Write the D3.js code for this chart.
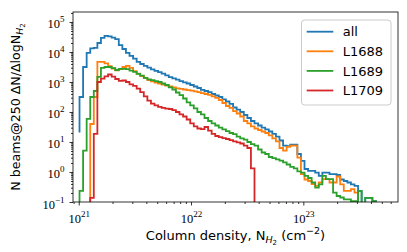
<!DOCTYPE html>
<html>
<head>
<meta charset="UTF-8">
<style>
body { margin: 0; background: #fff; }
svg { display: block; }
</style>
</head>
<body>
<svg></svg>
<script src="https://d3js.org/d3.v7.min.js"></script>
<script>

let width = 407, height = 252;
let plot = {left: 73, right: 398, top: 12, bottom: 202};

// histogram bins: log10 N_H2 of the first edge and the bin width (dex)
let binStart = 21.007, binStep = 0.0318;

// log10 of the counts, one per bin; null = empty bin
let logAll = [1.32, 2.50, 3.50, 3.97, 4.12, 4.14, 4.30, 4.47, 4.54, 4.52,
  4.48, 4.43, 4.23, 4.10, 3.97, 3.87, 3.78, 3.67, 3.60, 3.54,
  3.48, 3.42, 3.37, 3.33, 3.28, 3.22, 3.16, 3.12, 3.08, 3.03,
  2.99, 2.95, 2.90, 2.85, 2.80, 2.74, 2.70, 2.66, 2.60, 2.55,
  2.50, 2.42, 2.35, 2.27, 2.15, 2.08, 2.00, 1.90, 1.80, 1.70,
  1.62, 1.55, 1.48, 1.42, 1.35, 1.27, 1.18, 1.05, 0.88, 0.86,
  0.91, 0.91, 0.60, 0.37, 0.10, 0.04, 0.04, -0.02, -0.13, -0.02,
  -0.02, -0.07, -0.07, -0.10, -0.25, -0.30, -0.35, -0.41, -0.46, -0.63,
  null, -0.86, -0.86, -0.97, null];

let logL1688 = [null, null, null, null, 1.60, 2.50, 3.67, 3.67, 3.62, 3.53,
  3.45, 3.39, 3.43, 3.50, 3.54, 3.47, 3.36, 3.28, 3.20, 3.13,
  3.06, 3.02, 2.98, 2.95, 2.91, 2.88, 2.85, 2.82, 2.79, 2.77,
  2.75, 2.73, 2.71, 2.69, 2.66, 2.63, 2.60, 2.57, 2.52, 2.47,
  2.40, 2.30, 2.20, 2.14, 2.03, 1.95, 1.85, 1.70, 1.62, 1.52,
  1.45, 1.40, 1.35, 1.30, 1.22, 1.12, 1.02, 0.80, 0.71, 0.84,
  0.88, 0.88, 0.48, -0.07, -0.25, -0.30, -0.40, -0.46, -0.35, -0.24,
  -0.24, -0.35, -0.35, -0.15, -0.41, -0.63, -0.63, -0.57, -0.69, null];

let logL1689 = [null, -0.63, 0.71, 1.77, 2.50, 2.70, 3.17, 3.47, 3.50, 3.50,
  3.46, 3.40, 3.44, 3.44, 3.43, 3.38, 3.34, 3.27, 3.21, 3.14,
  3.09, 3.06, 3.03, 3.00, 2.95, 2.90, 2.82, 2.75, 2.65, 2.56,
  2.45, 2.32, 2.22, 2.12, 2.00, 1.92, 1.80, 1.70, 1.62, 1.55,
  1.48, 1.42, 1.36, 1.30, 1.26, 1.18, 1.12, 1.08, 1.00, 0.93,
  0.88, 0.75, 0.65, 0.60, 0.50, 0.46, 0.42, 0.38, 0.32, 0.25,
  0.17, 0.12, 0.02, -0.02, -0.13, -0.20, -0.35, -0.52, -0.41, -0.13,
  -0.24, -0.24, -0.69, -0.80, -0.85, -0.91, -0.91, -0.97, -0.97, -0.63,
  null, -0.86, -0.86, -0.97, null];

let logL1709 = [null, null, null, null, -0.86, 1.27, 3.00, 3.11, 3.19, 3.25,
  3.18, 3.10, 3.04, 3.05, 3.00, 2.92, 2.87, 2.78, 2.66, 2.52,
  2.38, 2.28, 2.22, 2.17, 2.14, 2.11, 2.10, 2.06, 2.00, 1.92,
  1.85, 1.75, 1.62, 1.52, 1.45, 1.43, 1.50, 1.38, 1.27, 1.20,
  1.16, 1.13, 1.10, 1.06, 1.02, 0.99, 0.95, 0.88, 0.80, 0.12,
  null];

let seriesNames = ["all", "L1688", "L1689", "L1709"];
let seriesColors = ["#1f77b4", "#ff7f0e", "#2ca02c", "#d62728"];
let xTickExp = [21, 22, 23];
let yTickExp = [-1, 0, 1, 2, 3, 4, 5];

let svg = d3.select("svg")
    .attr("width", width)
    .attr("height", height);

let x = d3.scaleLog()
    .domain([Math.pow(10, 20.949), Math.pow(10, 23.843)])
    .range([plot.left, plot.right]);
let y = d3.scaleLog()
    .domain([0.1, Math.pow(10, 5.333)])
    .range([plot.bottom, plot.top]);

svg.append("defs").append("clipPath")
    .attr("id", "plotclip")
    .append("rect")
    .attr("x", plot.left).attr("y", plot.top)
    .attr("width", plot.right - plot.left)
    .attr("height", plot.bottom - plot.top);

let line = d3.line()
    .x(d => x(d.n))
    .y(d => y(d.count))
    .curve(d3.curveStepBefore);

let allSeries = [logAll, logL1688, logL1689, logL1709];

svg.append("g")
    .attr("clip-path", "url(#plotclip)")
    .selectAll("path")
    .data(allSeries)
    .enter()
    .append("path")
    .attr("fill", "none")
    .attr("stroke", (d, i) => seriesColors[i])
    .attr("stroke-width", 1.8)
    .attr("stroke-linejoin", "miter")
    .attr("d", vals => line(vals.map((v, k) => ({
        n: Math.pow(10, binStart + binStep * k),
        count: v === null ? 1e-6 : Math.pow(10, v)
    }))));

// minor tick positions (2..9 x decade) inside the domain
function minorTicks(scale, e0, e1) {
    let out = [];
    let [lo, hi] = scale.domain();
    for (let e = e0; e <= e1; e++) {
        for (let m = 2; m <= 9; m++) {
            let v = m * Math.pow(10, e);
            if (v >= lo && v <= hi) out.push(v);
        }
    }
    return out;
}

let tickFont = "'Liberation Serif', 'DejaVu Serif', serif";
let labelFont = "'DejaVu Sans', sans-serif";

function powLabel(sel, exp, supSize, supDy) {
    sel.text(null);
    sel.append("tspan").text("10");
    sel.append("tspan")
        .attr("dy", supDy)
        .attr("font-size", supSize)
        .text(String(exp).replace("-", "\u2212"));
}

// x axis
let gxMinor = svg.append("g")
    .attr("transform", "translate(0," + plot.bottom + ")")
    .call(d3.axisBottom(x).tickValues(minorTicks(x, 20, 23)).tickSize(2).tickSizeOuter(0).tickFormat(""));
let gx = svg.append("g")
    .attr("transform", "translate(0," + plot.bottom + ")")
    .call(d3.axisBottom(x).tickValues(xTickExp.map(e => Math.pow(10, e))).tickSize(3.5).tickSizeOuter(0));
gx.selectAll("text")
    .attr("y", 21).attr("dy", 0)
    .attr("font-family", tickFont)
    .attr("font-size", 12.5)
    .each(function (d, i) { powLabel(d3.select(this), xTickExp[i], 9, -6); });

// y axis
let gyMinor = svg.append("g")
    .attr("transform", "translate(" + plot.left + ",0)")
    .call(d3.axisLeft(y).tickValues(minorTicks(y, -1, 5)).tickSize(2).tickSizeOuter(0).tickFormat(""));
let gy = svg.append("g")
    .attr("transform", "translate(" + plot.left + ",0)")
    .call(d3.axisLeft(y).tickValues(yTickExp.map(e => Math.pow(10, e))).tickSize(3.5).tickSizeOuter(0));
gy.selectAll("text")
    .attr("x", -8.5).attr("dy", 6)
    .attr("font-family", tickFont)
    .attr("font-size", 12.5)
    .each(function (d, i) { powLabel(d3.select(this), yTickExp[i], 9, -6); });

svg.selectAll(".domain").remove();
svg.selectAll(".tick line").attr("stroke", "#000").attr("stroke-width", 0.8);
svg.selectAll(".tick text").attr("fill", "#000");

// frame
svg.append("rect")
    .attr("x", plot.left).attr("y", plot.top)
    .attr("width", plot.right - plot.left)
    .attr("height", plot.bottom - plot.top)
    .attr("fill", "none")
    .attr("stroke", "#000")
    .attr("stroke-width", 0.8);

// axis labels
let xlab = svg.append("text")
    .attr("x", (plot.left + plot.right) / 2)
    .attr("y", 240)
    .attr("text-anchor", "middle")
    .attr("font-family", labelFont)
    .attr("font-size", 13);
xlab.append("tspan").text("Column density, N");
xlab.append("tspan").attr("dy", 3).attr("font-size", 9.5).attr("font-style", "italic").text("H");
xlab.append("tspan").attr("dy", 2).attr("font-size", 7).text("2");
xlab.append("tspan").attr("dy", -5).text(" (cm");
xlab.append("tspan").attr("dy", -6).attr("font-size", 9.5).text("\u22122");
xlab.append("tspan").attr("dy", 6).text(")");

let ylab = svg.append("text")
    .attr("transform", "translate(20," + (plot.top + plot.bottom) / 2 + ") rotate(-90)")
    .attr("text-anchor", "middle")
    .attr("font-family", labelFont)
    .attr("font-size", 12.6);
ylab.append("tspan").text("N beams@250 \u0394N/\u0394logN");
ylab.append("tspan").attr("dy", 3).attr("font-size", 9.2).attr("font-style", "italic").text("H");
ylab.append("tspan").attr("dy", 2).attr("font-size", 7).text("2");

// legend
let legend = svg.append("g");
legend.append("rect")
    .attr("x", 301.5).attr("y", 20)
    .attr("width", 89.5).attr("height", 85)
    .attr("rx", 3)
    .attr("fill", "#fff").attr("fill-opacity", 0.8)
    .attr("stroke", "#cccccc").attr("stroke-width", 1);
let items = legend.selectAll("g.item")
    .data(seriesNames)
    .enter()
    .append("g")
    .attr("class", "item")
    .attr("transform", (d, i) => "translate(0," + (31.7 + i * 19.6) + ")");
items.append("line")
    .attr("x1", 306.7).attr("x2", 333.3)
    .attr("stroke", (d, i) => seriesColors[i])
    .attr("stroke-width", 1.8);
items.append("text")
    .attr("x", 342.7).attr("y", 4.6)
    .attr("font-family", labelFont)
    .attr("font-size", 13)
    .text(d => d);

</script>
</body>
</html>
